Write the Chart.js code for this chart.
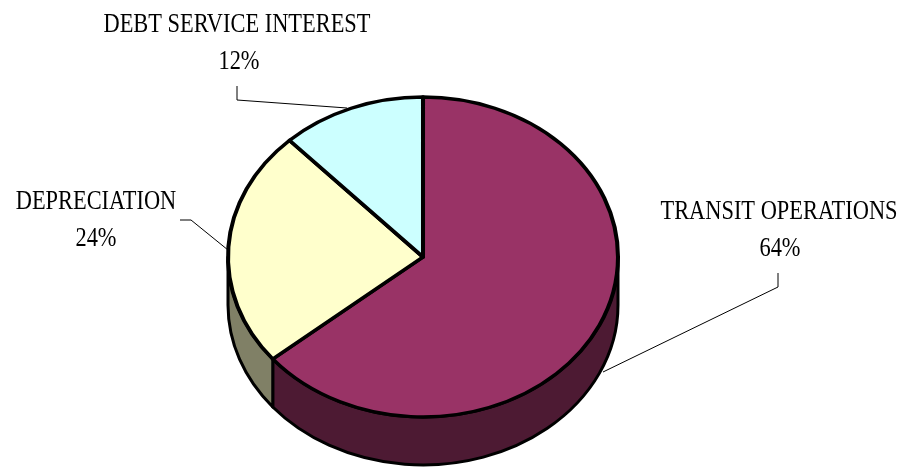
<!DOCTYPE html>
<html>
<head>
<meta charset="utf-8">
<script src="https://cdn.jsdelivr.net/npm/chart.js@4.4.1/dist/chart.umd.min.js"></script>
<style>
  html, body { margin: 0; padding: 0; background: #fff; }
  #wrap { width: 904px; height: 467px; position: relative; }
</style>
</head>
<body>
<div id="wrap"><canvas id="pie"></canvas></div>
<script>
// expense breakdown
const categories = ['TRANSIT OPERATIONS', 'DEPRECIATION', 'DEBT SERVICE INTEREST'];
const shares = [64, 24, 12];
const topColors = ['#993366', '#FFFFCC', '#CCFFFF'];
const sideColors = ['#4D1A33', '#808066', '#668080'];

// ellipse geometry of the tilted pie
const PIE = { cx: 423, cy: 257, rx: 195, ry: 160, depth: 48 };

// label anchors and leader lines
const labelLayout = [
    { x: 779, y: 219, px: 780, py: 256, leader: [[778, 273], [778, 287], [603, 372]] },
    { x: 96, y: 209, px: 96, py: 246, leader: [[180, 220], [191, 220], [228, 250]] },
    { x: 237, y: 32, px: 239, py: 69, leader: [[237, 86], [237, 100], [347, 108]] }
];

const FONT = '28px "Liberation Serif", "Times New Roman", serif';
const SQUEEZE = 0.8;

function pieTransform(ctx, arc) {
    const r = arc.outerRadius;
    ctx.translate(PIE.cx, PIE.cy);
    ctx.scale(PIE.rx / r, PIE.ry / r);
    ctx.translate(-arc.x, -arc.y);
}

const pie3d = {
    id: 'pie3d',
    beforeDatasetsDraw(chart) {
        const ctx = chart.ctx;
        const arcs = chart.getDatasetMeta(0).data;
        // side walls, only the front half is visible
        arcs.forEach((arc, i) => {
            const a0 = Math.max(arc.startAngle, 0);
            const a1 = Math.min(arc.endAngle, Math.PI);
            if (a1 <= a0) return;
            ctx.save();
            ctx.beginPath();
            ctx.ellipse(PIE.cx, PIE.cy, PIE.rx, PIE.ry, 0, a0, a1, false);
            ctx.ellipse(PIE.cx, PIE.cy + PIE.depth, PIE.rx, PIE.ry, 0, a1, a0, true);
            ctx.closePath();
            ctx.fillStyle = sideColors[i];
            ctx.fill();
            ctx.lineWidth = 3;
            ctx.lineJoin = 'round';
            ctx.strokeStyle = '#000';
            ctx.stroke();
            ctx.restore();
        });
        // squash the top face into the ellipse
        ctx.save();
        pieTransform(ctx, arcs[0]);
    },
    afterDatasetsDraw(chart) {
        chart.ctx.restore();
    },
    afterDraw(chart) {
        const ctx = chart.ctx;
        ctx.save();
        ctx.strokeStyle = '#000';
        ctx.lineWidth = 1;
        labelLayout.forEach((l, i) => {
            ctx.beginPath();
            l.leader.forEach((p, j) => j ? ctx.lineTo(p[0], p[1]) : ctx.moveTo(p[0], p[1]));
            ctx.stroke();

            ctx.font = FONT;
            ctx.fillStyle = '#000';
            ctx.textAlign = 'center';
            ctx.textBaseline = 'alphabetic';
            [[categories[i], l.x, l.y], [shares[i] + '%', l.px, l.py]].forEach(([t, x, y]) => {
                ctx.save();
                ctx.translate(x, y);
                ctx.scale(SQUEEZE, 1);
                ctx.fillText(t, 0, 0);
                ctx.restore();
            });
        });
        ctx.restore();
    }
};

new Chart(document.getElementById('pie'), {
    type: 'pie',
    data: {
        labels: categories,
        datasets: [{
            data: shares,
            backgroundColor: topColors,
            borderColor: '#000',
            borderWidth: 4,
            borderJoinStyle: 'round'
        }]
    },
    options: {
        responsive: true,
        maintainAspectRatio: false,
        animation: false,
        layout: { padding: { left: 228, right: 286, top: 30, bottom: 37 } },
        plugins: {
            legend: { display: false },
            tooltip: { enabled: false }
        }
    },
    plugins: [pie3d]
});
</script>
</body>
</html>
